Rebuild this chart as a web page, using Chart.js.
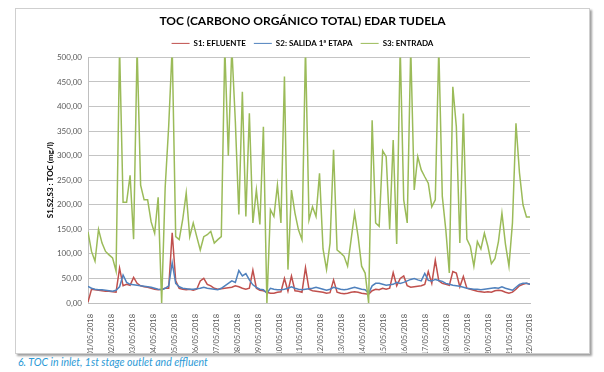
<!DOCTYPE html>
<html>
<head>
<meta charset="utf-8">
<script src="https://cdn.jsdelivr.net/npm/chart.js@4.4.1/dist/chart.umd.min.js"></script>
<style>
  html, body { margin: 0; padding: 0; background: #fff; }
  body { width: 604px; height: 372px; position: relative; overflow: hidden; font-family: Lato, "Open Sans", sans-serif; }
  #chartBox {
    position: absolute; left: 15px; top: 8px; width: 573px; height: 344px;
    border: 1px solid #cfcfcf; box-shadow: 2px 2px 2px #a0a0a0; background: #fff;
  }
  #caption {
    position: absolute; left: 18px; top: 356px;
    font-family: Lato, sans-serif; font-style: italic; font-size: 10.5px; color: #2c9ad6;
  }
</style>
</head>
<body>
<div id="chartBox"><canvas id="tocChart" width="573" height="344"></canvas></div>
<div id="caption">6. TOC in inlet, 1st stage outlet and effluent</div>
<script>
// Day labels on the x axis
const dayLabels = [
  '01/05/2018', '02/05/2018', '03/05/2018', '04/05/2018', '05/05/2018', '06/05/2018',
  '07/05/2018', '08/05/2018', '09/05/2018', '10/05/2018', '11/05/2018', '12/05/2018',
  '13/05/2018', '14/05/2018', '15/05/2018', '16/05/2018', '17/05/2018', '18/05/2018',
  '19/05/2018', '20/05/2018', '21/05/2018', '22/05/2018'
];

// Readings every 4 hours (mg/l)
const s1Efluente = [
  2, 28, 27, 26, 25, 24,
  24, 23, 22, 71, 35, 38,
  36, 52, 40, 35, 33, 32,
  30, 28, 27, 28, 30, 30,
  143, 45, 30, 28, 27, 28,
  26, 28, 45, 50, 38, 35,
  30, 28, 29, 30, 31, 32,
  35, 33, 30, 28, 30, 67,
  30, 26, 25, 22, 20, 20,
  22, 23, 50, 24, 55, 25,
  24, 22, 72, 28, 25, 24,
  23, 22, 20, 21, 47, 22,
  20, 19, 20, 22, 23, 22,
  20, 19, 18, 25, 28, 27,
  30, 28, 30, 62, 35, 50,
  55, 35, 32, 33, 34, 35,
  38, 64, 40, 87, 45, 40,
  38, 36, 64, 61, 33, 54,
  30, 28, 26, 24, 23, 22,
  23, 22, 25, 26, 25, 22,
  20, 22, 28, 35, 38, 40, 38
];

const s2Salida = [
  34, 30, 28, 27, 27, 26,
  25, 24, 26, 33, 57, 42,
  38, 37, 36, 35, 34, 33,
  32, 30, 28, 27, 30, 35,
  82, 40, 33, 30, 29, 28,
  28, 29, 30, 32, 30, 29,
  28, 27, 30, 35, 40, 45,
  42, 66, 55, 60, 47, 37,
  32, 28, 27, 20, 30, 28,
  27, 27, 28, 30, 33, 30,
  28, 27, 28, 29, 30, 32,
  30, 28, 26, 28, 32, 30,
  28, 27, 28, 30, 32, 30,
  28, 27, 20, 35, 40, 40,
  38, 36, 37, 38, 42, 40,
  42, 45, 48, 50, 47, 45,
  60, 46, 45, 48, 46, 44,
  40, 38, 36, 35, 34, 32,
  30, 29, 28, 28, 27, 28,
  29, 30, 31, 30, 33, 30,
  28, 26, 32, 38, 40, 40, 38
];

const s3Entrada = [
  145, 105, 85, 150, 122, 105,
  98, 92, 65, 520, 205, 205,
  260, 130, 520, 240, 210, 210,
  165, 142, 215, 0, 235, 360,
  520, 135, 129, 170, 224, 135,
  163, 135, 108, 135, 139, 146,
  122, 129, 135, 520, 300, 520,
  370, 180, 430, 176, 386, 163,
  230, 160, 359, 0, 190, 176,
  240, 163, 461, 68, 230, 183,
  149, 129, 520, 169, 196, 176,
  264, 110, 68, 122, 312, 108,
  102, 95, 75, 129, 183, 135,
  75, 61, 0, 372, 163, 156,
  310, 298, 150, 332, 120, 520,
  210, 163, 520, 230, 298, 271,
  257, 244, 196, 210, 520, 217,
  149, 61, 440, 359, 122, 386,
  130, 115, 75, 125, 110, 142,
  115, 80, 90, 125, 183, 120,
  75, 163, 366, 265, 200, 175, 175
];

// first sample sits a little before 01/05 00:00, one sample every 4 h
const firstDay = -0.14;
const lastDay = 21;
const sampleStep = (lastDay - firstDay) / (s3Entrada.length - 1);

function toPoints(values) {
  return values.map((v, i) => ({ x: firstDay + i * sampleStep, y: v }));
}

function formatComma(v) {
  return v.toFixed(2).replace('.', ',');
}

document.addEventListener("DOMContentLoaded", () => {
  const ctx = document.getElementById("tocChart").getContext("2d");

  new Chart(ctx, {
    type: "line",
    data: {
      datasets: [
        { label: "S1: EFLUENTE", data: toPoints(s1Efluente), borderColor: "#c0504d", backgroundColor: "#c0504d", order: 2 },
        { label: "S2: SALIDA 1ª ETAPA", data: toPoints(s2Salida), borderColor: "#4f81bd", backgroundColor: "#4f81bd", order: 1 },
        { label: "S3: ENTRADA", data: toPoints(s3Entrada), borderColor: "#9bbb59", backgroundColor: "#9bbb59", order: 0 }
      ]
    },
    options: {
      responsive: false,
      animation: false,
      devicePixelRatio: 1,
      elements: {
        line: { borderWidth: 1.5, tension: 0 },
        point: { radius: 0 }
      },
      layout: { padding: { left: 0, right: 0, top: 3, bottom: 0 } },
      plugins: {
        tooltip: { enabled: false },
        title: {
          display: true,
          text: "TOC (CARBONO ORGÁNICO TOTAL) EDAR TUDELA",
          color: "#000",
          font: { family: "Lato", size: 12, weight: "bold" },
          padding: { top: 2, bottom: 3 }
        },
        legend: {
          display: true,
          labels: {
            sort: (a, b) => a.datasetIndex - b.datasetIndex,
            usePointStyle: true,
            pointStyle: "line",
            pointStyleWidth: 18,
            boxHeight: 2,
            color: "#000",
            padding: 8,
            font: { family: "Lato", size: 8, weight: "bold" }
          }
        }
      },
      scales: {
        x: {
          type: "linear",
          min: firstDay,
          max: lastDay,
          afterBuildTicks: (scale) => {
            scale.ticks = dayLabels.map((_, d) => ({ value: d }));
          },
          afterFit: (scale) => { scale.height = 50; },
          grid: { display: false },
          border: { display: true, color: "#bfbfbf", width: 1 },
          ticks: {
            autoSkip: false,
            maxRotation: 90,
            minRotation: 90,
            padding: 3,
            color: "#595959",
            font: { family: "Lato", size: 7.5 },
            callback: (value) => dayLabels[value]
          }
        },
        y: {
          min: 0,
          max: 500,
          afterFit: (scale) => { scale.width = 72; },
          grid: { color: "#c4c4c4", lineWidth: 1, drawTicks: false },
          border: { display: true, color: "#bfbfbf", width: 1 },
          title: {
            display: true,
            text: "S1,S2,S3 : TOC (mg/l)",
            color: "#000",
            font: { family: "Lato", size: 8, weight: "bold" },
            padding: { top: 30, bottom: 0 }
          },
          ticks: {
            stepSize: 50,
            padding: 6,
            color: "#595959",
            font: { family: "Lato", size: 8 },
            callback: (value) => formatComma(value)
          }
        },
        // empty axis on the right only keeps the plot narrower, like the original
        spacer: {
          position: "right",
          min: 0,
          max: 500,
          afterFit: (scale) => { scale.width = 59; },
          grid: { display: false },
          border: { display: false },
          ticks: { display: false }
        }
      }
    }
  });
});
</script>
</body>
</html>
